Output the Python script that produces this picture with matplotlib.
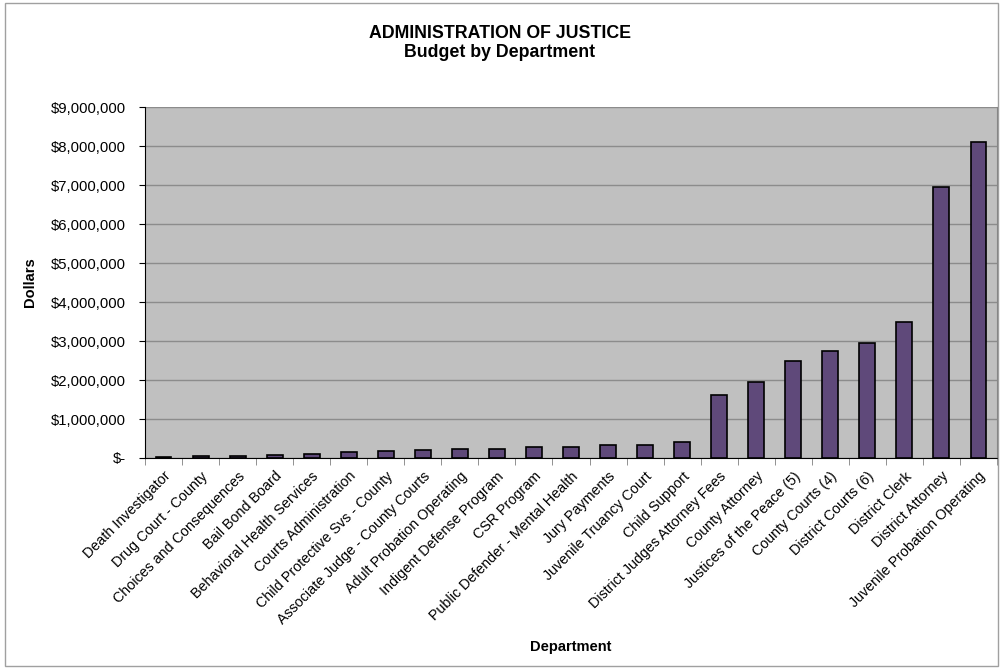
import matplotlib.pyplot as plt
from matplotlib.ticker import FuncFormatter, FixedLocator
from matplotlib.patches import Rectangle

plt.rcParams['font.family'] = ['Liberation Sans', 'DejaVu Sans']

departments = [
    'Death Investigator', 'Drug Court - County', 'Choices and Consequences',
    'Bail Bond Board', 'Behavioral Health Services', 'Courts Administration',
    'Child Protective Svs - County', 'Associate Judge - County Courts',
    'Adult Probation Operating', 'Indigent Defense Program', 'CSR Program',
    'Public Defender - Mental Health', 'Jury Payments', 'Juvenile Truancy Court',
    'Child Support', 'District Judges Attorney Fees', 'County Attorney',
    'Justices of the Peace (5)', 'County Courts (4)', 'District Courts (6)',
    'District Clerk', 'District Attorney', 'Juvenile Probation Operating',
]
budget = [
    30000, 50000, 60000, 80000, 110000, 160000, 180000, 200000, 230000,
    240000, 270000, 290000, 330000, 330000, 420000, 1620000, 1950000,
    2490000, 2740000, 2940000, 3480000, 6940000, 8100000,
]

fig = plt.figure(figsize=(10, 6.69), dpi=100)
ax = fig.add_axes([0.145, 0.3154, 0.852, 0.5246])
ax.set_facecolor('#c0c0c0')

x = range(len(departments))
ax.bar(x, budget, width=0.43, color='#5f497a', edgecolor='black', linewidth=1.2, zorder=3)

ax.set_xlim(-0.5, len(departments) - 0.5)
ax.set_ylim(0, 9000000)
ax.set_yticks(range(0, 9000001, 1000000))
ax.yaxis.set_major_formatter(FuncFormatter(lambda v, p: '$-' if v == 0 else f'${v:,.0f}'))
ax.grid(axis='y', color='#8c8c8c', linewidth=1, zorder=1)

ax.set_xticks(list(x))
ax.set_xticklabels(departments, rotation=45, ha='right', rotation_mode='anchor', fontsize=10.3)
ax.xaxis.set_minor_locator(FixedLocator([i + 0.5 for i in range(-1, len(departments))]))
ax.tick_params(axis='x', which='major', length=0, pad=8)
ax.tick_params(axis='x', which='minor', length=5, color='#808080')
ax.tick_params(axis='y', length=4, labelsize=10.7, pad=10)

ax.spines['top'].set_visible(False)
ax.spines['right'].set_color('#808080')
ax.spines['left'].set_color('black')
ax.spines['bottom'].set_color('black')

ax.set_ylabel('Dollars', fontsize=10.5, fontweight='bold')
ax.set_xlabel('Department', fontsize=10.5, fontweight='bold')
ax.xaxis.set_label_coords(0.5, -0.52)
ax.yaxis.set_label_coords(-0.127, 0.5)

fig.text(0.5, 0.963, 'ADMINISTRATION OF JUSTICE\nBudget by Department',
         ha='center', va='top', fontsize=12.8, fontweight='bold', linespacing=1.15)

fig.patches.append(Rectangle((0.005, 0.005), 0.993, 0.99, transform=fig.transFigure,
                             fill=False, edgecolor='#a0a0a0', linewidth=1))

fig.savefig('out.png', dpi=100)
